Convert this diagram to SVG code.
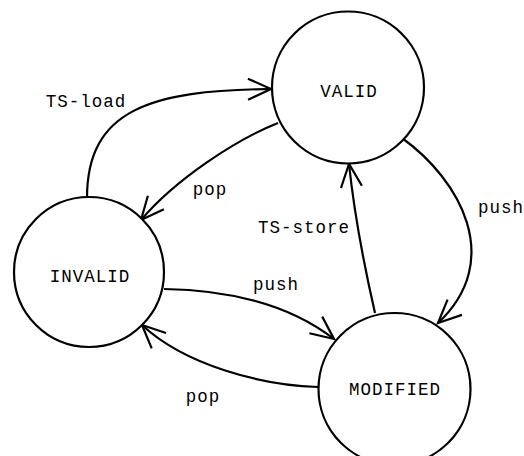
<svg xmlns="http://www.w3.org/2000/svg" width="524" height="456" viewBox="0 0 524 456">
<style>
.node{fill:#fff;stroke:#000;stroke-width:2.2}
.edge{fill:none;stroke:#000;stroke-width:2.2;marker-end:url(#arr)}
text{font-family:"Liberation Mono","DejaVu Sans Mono",monospace;font-size:17.5px;letter-spacing:1px;fill:#000;text-anchor:middle}
</style>
<defs>
<marker id="arr" viewBox="-26 -13 30 26" refX="0" refY="0" markerWidth="30" markerHeight="26" markerUnits="userSpaceOnUse" orient="auto" overflow="visible">
<path d="M-23,-10.5 L0,0 L-23,10.5" fill="none" stroke="#000" stroke-width="2.2"/>
</marker>
</defs>
<rect width="524" height="456" fill="#fff"/>
<g id="connectors">
<path class="edge" d="M87,198 C87,110 150,90 271,89"/>
<path class="edge" d="M278,123 C235,140 175,180 141,220"/>
<path class="edge" d="M375,313 Q356,230 349,164"/>
<path class="edge" d="M402,138 C460,180 505,260 438,323"/>
<path class="edge" d="M164,289 C230,290 290,305 334,339"/>
<path class="edge" d="M318,387 C260,385 185,365 142,325"/>
<text x="86" y="107">TS-load</text>
<text x="210" y="195">pop</text>
<text x="304" y="233">TS-store</text>
<text x="501" y="213">push</text>
<text x="276" y="290">push</text>
<text x="203" y="402">pop</text>
</g>
<g id="valid">
<circle class="node" cx="348" cy="87.5" r="76"/>
<text x="349" y="97">VALID</text>
</g>
<g id="invalid">
<circle class="node" cx="89" cy="272" r="75"/>
<text x="90" y="282">INVALID</text>
</g>
<g id="modified">
<circle class="node" cx="394.5" cy="389" r="76"/>
<text x="395" y="395">MODIFIED</text>
</g>
</svg>
